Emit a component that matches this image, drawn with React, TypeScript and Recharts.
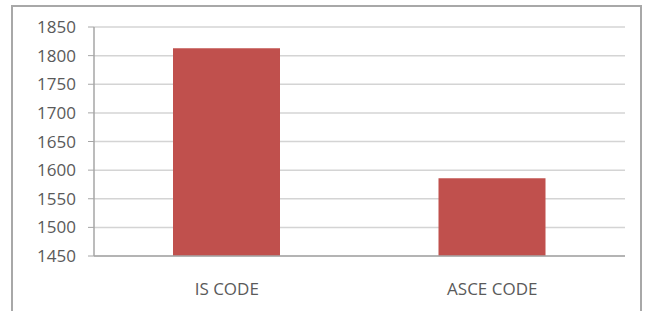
import React from 'react';
import { BarChart, Bar, XAxis, YAxis, CartesianGrid } from 'recharts';

const categories = ['IS CODE', 'ASCE CODE'];
const values = [1813, 1586];
const yTicks = [1450, 1500, 1550, 1600, 1650, 1700, 1750, 1800, 1850];

const data = categories.map((c, i) => ({ name: c, value: values[i], pos: i + 0.5 }));

const font = { fontFamily: '"Open Sans", sans-serif', fontSize: 17, fill: '#5a5a5a' };

export default function App() {
  return (
    <div style={{ position: 'absolute', left: 0, top: 0, width: 652, height: 311, background: '#fff', overflow: 'hidden' }}>
      <div style={{ position: 'absolute', left: 11, top: 5, width: 631, height: 320, border: '2px solid #a8a8a8', boxSizing: 'border-box' }} />
      <BarChart
        width={652}
        height={311}
        data={data}
        margin={{ top: 27, right: 27, bottom: 0, left: 0 }}
        barCategoryGap="30%"
        style={{ position: 'absolute', left: 0, top: 0 }}
      >
        <CartesianGrid horizontal vertical={false} stroke="#d4d4d4" strokeWidth={1.5} />
        <XAxis
          xAxisId="ticks"
          type="number"
          domain={[0, 2]}
          ticks={[0, 1, 2]}
          dataKey="pos"
          axisLine={false}
          tick={() => <g />}
          tickLine={{ stroke: '#a6a6a6', strokeWidth: 1.5 }}
          tickSize={5}
          height={0}
        />
        <XAxis
          xAxisId="cat"
          dataKey="name"
          tickLine={false}
          axisLine={{ stroke: '#a6a6a6', strokeWidth: 1.5 }}
          tick={font}
          tickMargin={21}
          interval={0}
          height={55}
        />
        <YAxis
          domain={[1450, 1850]}
          ticks={yTicks}
          width={94}
          interval={0}
          tick={font}
          tickSize={6}
          tickMargin={12}
          axisLine={{ stroke: '#a6a6a6', strokeWidth: 1.5 }}
          tickLine={{ stroke: '#a6a6a6' }}
          allowDataOverflow
        />
        <Bar xAxisId="cat" dataKey="value" fill="#C0504D" barSize={107} isAnimationActive={false} />
      </BarChart>
    </div>
  );
}
